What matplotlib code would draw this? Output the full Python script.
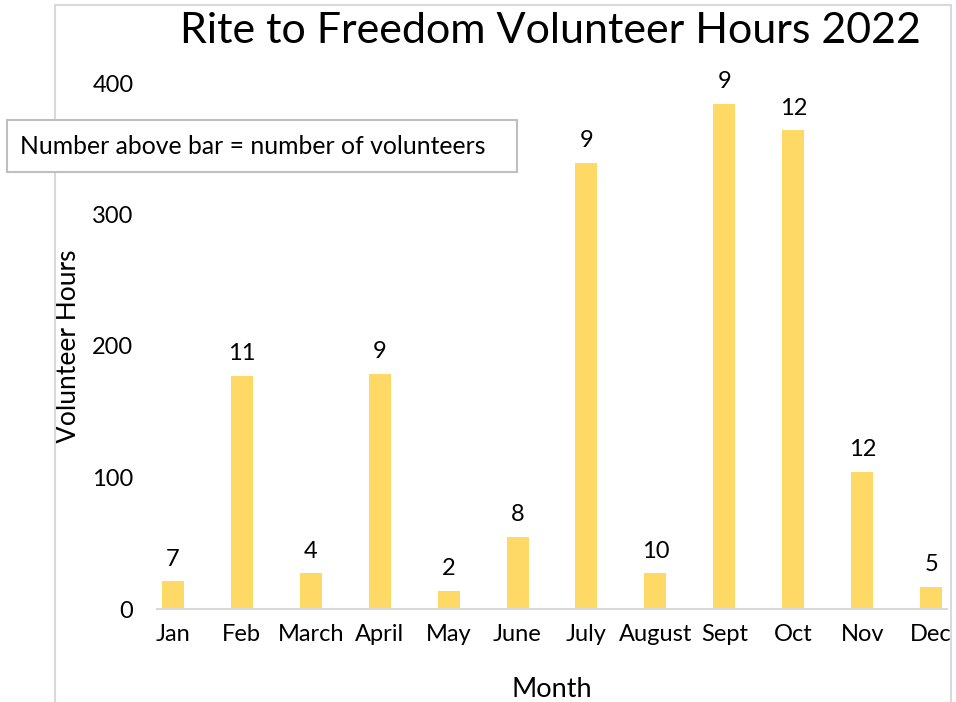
import matplotlib
matplotlib.use("Agg")
import matplotlib.pyplot as plt
from matplotlib.patches import Rectangle

months = ["Jan", "Feb", "March", "April", "May", "June", "July", "August", "Sept", "Oct", "Nov", "Dec"]
hours = [21, 177, 27, 179, 14, 55, 339, 27, 384, 364, 104, 17]
volunteers = [7, 11, 4, 9, 2, 8, 9, 10, 9, 12, 12, 5]

plt.rcParams["font.family"] = ["Lato", "DejaVu Sans"]

fig = plt.figure(figsize=(9.56, 7.02), dpi=100)
ax = fig.add_axes([157 / 956, 93 / 702, 790 / 956, 526 / 702])

x = list(range(len(months)))
ax.bar(x, hours, width=0.32, color="#FFD966", zorder=2)

# volunteer counts above the bars
for xi, h, v in zip(x, hours, volunteers):
    ax.annotate(str(v), (xi, h), xytext=(0, 8.5), textcoords="offset points",
                ha="center", va="bottom", fontsize=17, color="black")

ax.set_xlim(-0.23, 11.23)
ax.set_ylim(0, 400)
ax.set_xticks(x)
ax.set_xticklabels(months, fontsize=17)
ax.set_yticks([0, 100, 200, 300, 400])
ax.tick_params(axis="both", length=0, labelsize=17)
ax.tick_params(axis="y", pad=17)
ax.tick_params(axis="x", pad=11)

for s in ["top", "right", "left"]:
    ax.spines[s].set_visible(False)
ax.spines["bottom"].set_color("#D9D9D9")
ax.spines["bottom"].set_linewidth(1.5)

ax.set_xlabel("Month", fontsize=19.5, labelpad=23)
ax.set_ylabel("Volunteer Hours", fontsize=19)
ax.yaxis.set_label_coords(-76 / 790, 0.5)

fig.text(550 / 956, 1 - 31 / 702, "Rite to Freedom Volunteer Hours 2022",
         ha="center", va="center", fontsize=31)

# chart area border
fig.patches.append(Rectangle((55 / 956, -0.05), 896 / 956, 1.05 - 5 / 702,
                             transform=fig.transFigure, fill=False,
                             edgecolor="#D9D9D9", linewidth=1.5, zorder=0))

# note box
fig.patches.append(Rectangle((7 / 956, 1 - 172 / 702), 510 / 956, 52 / 702,
                             transform=fig.transFigure, facecolor="white",
                             edgecolor="#BFBFBF", linewidth=1.5, zorder=5))
fig.text(20 / 956, 1 - 146 / 702, "Number above bar = number of volunteers",
         ha="left", va="center", fontsize=17.8, zorder=6)

fig.savefig("out.png", dpi=100)
